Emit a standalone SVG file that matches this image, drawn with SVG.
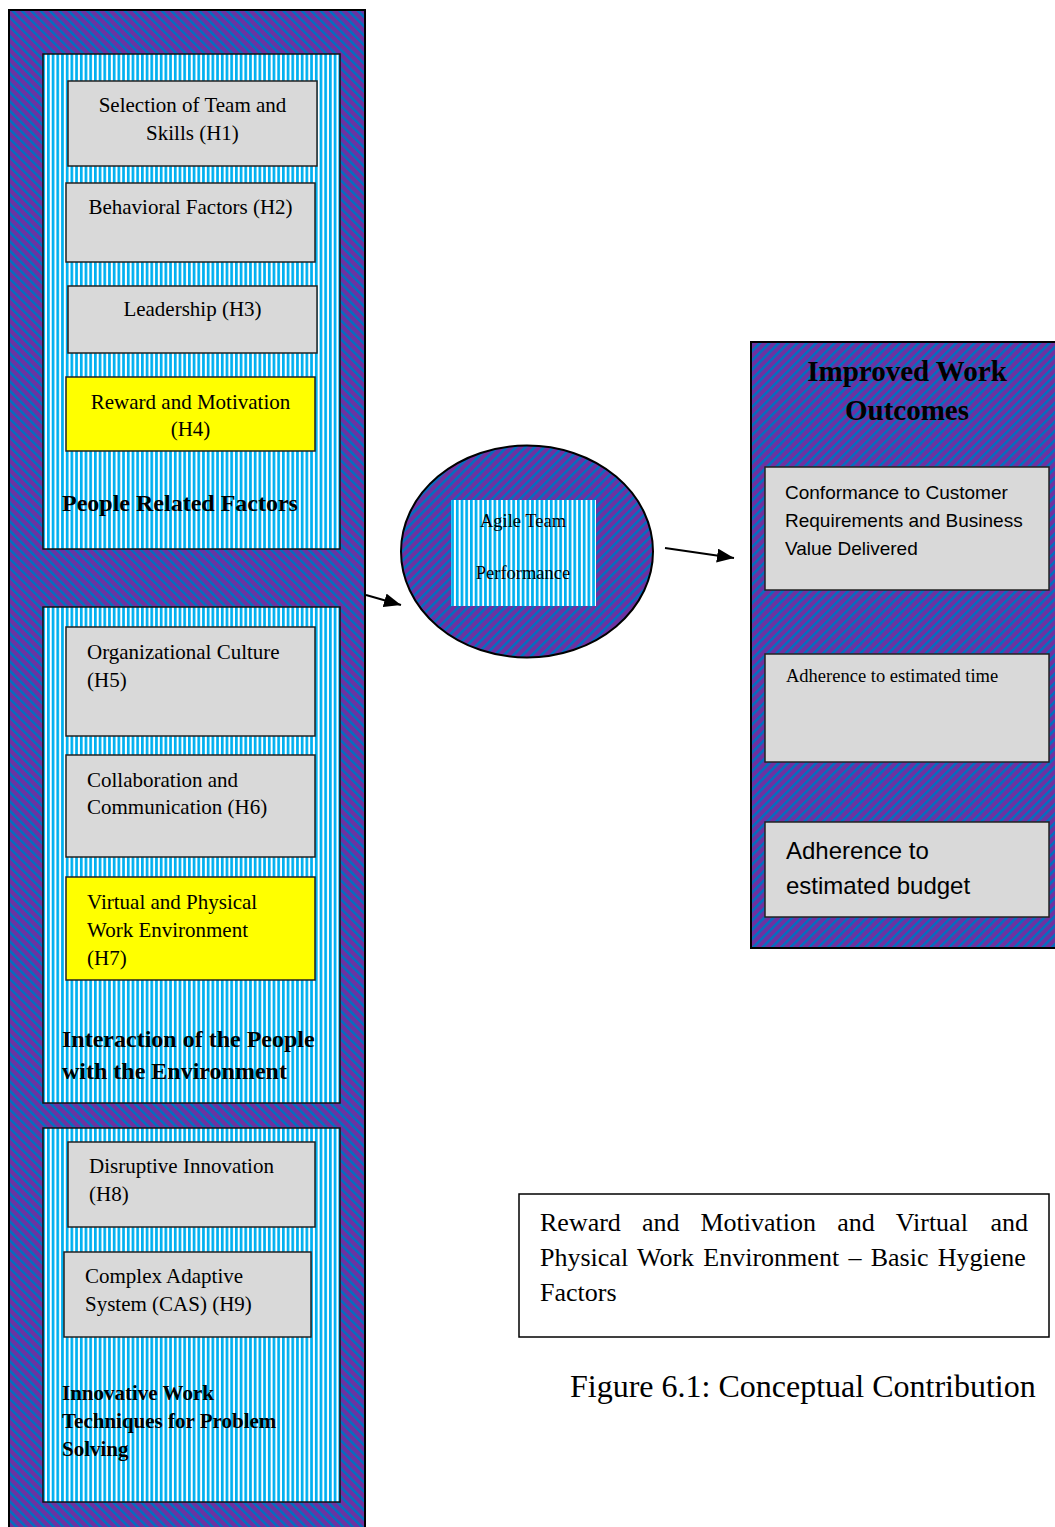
<svg xmlns="http://www.w3.org/2000/svg" width="1055" height="1527" viewBox="0 0 1055 1527">
  <defs>
    <!-- purple background with blue diagonal bands, two orientations -->
    <pattern id="diagDown" width="6.6" height="6.6" patternUnits="userSpaceOnUse" patternTransform="rotate(-45)">
      <rect width="6.6" height="6.6" fill="#7030A0"/>
      <rect width="2.5" height="6.6" fill="#0070C0"/>
    </pattern>
    <pattern id="diagUp" width="6.6" height="6.6" patternUnits="userSpaceOnUse" patternTransform="rotate(45)">
      <rect width="6.6" height="6.6" fill="#7030A0"/>
      <rect width="2.5" height="6.6" fill="#0070C0"/>
    </pattern>
    <!-- cyan / white vertical stripes -->
    <pattern id="vstripe" width="4.7" height="10" patternUnits="userSpaceOnUse">
      <rect width="4.7" height="10" fill="#FFFFFF"/>
      <rect width="2.7" height="10" fill="#00B0F0"/>
    </pattern>
    <marker id="arrow" markerUnits="userSpaceOnUse" markerWidth="18" markerHeight="14" refX="17" refY="7" orient="auto">
      <path d="M0,0 L17,7 L0,14 Z" fill="#000"/>
    </marker>
    <style>
      .panel { fill: url(#diagDown); stroke: #000; stroke-width: 2; }
      .panelUp { fill: url(#diagUp); stroke: #000; stroke-width: 2; }
      .section { fill: url(#vstripe); stroke: #111; stroke-width: 1.5; }
      .box { fill: #D9D9D9; stroke: #222; stroke-width: 1.5; }
      .hl { fill: #FFFF00; stroke: #222; stroke-width: 1.5; }
      .serif { font-family: "Liberation Serif", "Times New Roman", serif; fill: #000; }
      .sans { font-family: "Liberation Sans", Arial, sans-serif; fill: #000; }
      .t { font-size: 21px; }
      .c { text-anchor: middle; }
      .head { font-weight: bold; font-size: 24px; }
      .head-sm { font-weight: bold; font-size: 21px; }
      .title { font-weight: bold; font-size: 29px; }
      .small { font-size: 18.5px; }
      .note { font-size: 26px; }
      .cap { font-size: 32px; }
      .conn { stroke: #000; stroke-width: 2; fill: none; marker-end: url(#arrow); }
    </style>
  </defs>

  <!-- left column of driver factors -->
  <g id="driversPanel">
    <rect class="panel" x="9" y="10" width="356" height="1522"/>
  </g>

  <g id="peopleRelated">
    <rect class="section" x="43" y="54" width="297" height="495"/>
    <text class="serif head" x="62" y="511">People Related Factors</text>
  </g>
  <g id="h1">
    <rect class="box" x="68" y="81" width="249" height="85"/>
    <text class="serif t c" x="192.5" y="112">Selection of Team and</text>
    <text class="serif t c" x="192.5" y="140">Skills (H1)</text>
  </g>
  <g id="h2">
    <rect class="box" x="66" y="183" width="249" height="79"/>
    <text class="serif t c" x="190.5" y="214">Behavioral Factors (H2)</text>
  </g>
  <g id="h3">
    <rect class="box" x="68" y="286" width="249" height="67"/>
    <text class="serif t c" x="192.5" y="316">Leadership (H3)</text>
  </g>
  <g id="h4">
    <rect class="hl" x="66" y="377" width="249" height="74"/>
    <text class="serif t c" x="190.5" y="409">Reward and Motivation</text>
    <text class="serif t c" x="190.5" y="436">(H4)</text>
  </g>

  <g id="interaction">
    <rect class="section" x="43" y="607" width="297" height="496"/>
    <text class="serif head" x="62" y="1047">Interaction of the People</text>
    <text class="serif head" x="62" y="1079">with the Environment</text>
  </g>
  <g id="h5">
    <rect class="box" x="66" y="627" width="249" height="109"/>
    <text class="serif t" x="87" y="659">Organizational Culture</text>
    <text class="serif t" x="87" y="687">(H5)</text>
  </g>
  <g id="h6">
    <rect class="box" x="66" y="755" width="249" height="102"/>
    <text class="serif t" x="87" y="787">Collaboration and</text>
    <text class="serif t" x="87" y="814">Communication (H6)</text>
  </g>
  <g id="h7">
    <rect class="hl" x="66" y="877" width="249" height="103"/>
    <text class="serif t" x="87" y="909">Virtual and Physical</text>
    <text class="serif t" x="87" y="937">Work Environment</text>
    <text class="serif t" x="87" y="965">(H7)</text>
  </g>

  <g id="innovative">
    <rect class="section" x="43" y="1128" width="297" height="374"/>
    <text class="serif head-sm" x="62" y="1400">Innovative Work</text>
    <text class="serif head-sm" x="62" y="1428">Techniques for Problem</text>
    <text class="serif head-sm" x="62" y="1456">Solving</text>
  </g>
  <g id="h8">
    <rect class="box" x="68" y="1142" width="247" height="85"/>
    <text class="serif t" x="89" y="1173">Disruptive Innovation</text>
    <text class="serif t" x="89" y="1201">(H8)</text>
  </g>
  <g id="h9">
    <rect class="box" x="64" y="1252" width="247" height="85"/>
    <text class="serif t" x="85" y="1283">Complex Adaptive</text>
    <text class="serif t" x="85" y="1311">System (CAS) (H9)</text>
  </g>

  <!-- central construct -->
  <g id="agilePerformance">
    <ellipse class="panelUp" cx="527" cy="551.5" rx="126" ry="106"/>
    <rect x="451" y="500" width="145" height="106" fill="url(#vstripe)"/>
    <text class="serif small c" x="523" y="527">Agile Team</text>
    <text class="serif small c" x="523" y="579">Performance</text>
  </g>

  <!-- outcomes column -->
  <g id="outcomes">
    <rect class="panelUp" x="751" y="342" width="310" height="606"/>
    <text class="serif title c" x="907" y="381">Improved Work</text>
    <text class="serif title c" x="907" y="420">Outcomes</text>
  </g>
  <g id="conformance">
    <rect class="box" x="765" y="467" width="284" height="123" stroke-width="2"/>
    <text class="sans" x="785" y="499" font-size="19">Conformance to Customer</text>
    <text class="sans" x="785" y="527" font-size="19">Requirements and Business</text>
    <text class="sans" x="785" y="555" font-size="19">Value Delivered</text>
  </g>
  <g id="time">
    <rect class="box" x="765" y="654" width="284" height="108" stroke-width="2"/>
    <text class="serif small" x="786" y="682">Adherence to estimated time</text>
  </g>
  <g id="budget">
    <rect class="box" x="765" y="822" width="284" height="95" stroke-width="2"/>
    <text class="sans" x="786" y="859" font-size="24">Adherence to</text>
    <text class="sans" x="786" y="894" font-size="24">estimated budget</text>
  </g>

  <!-- note on hygiene factors -->
  <g id="hygieneNote">
    <rect x="519" y="1194" width="530" height="143" fill="#FFFFFF" stroke="#000" stroke-width="1.5"/>
    <g class="serif note">
      <text x="540" y="1231">Reward</text>
      <text x="642" y="1231">and</text>
      <text x="700.5" y="1231">Motivation</text>
      <text x="837.2" y="1231">and</text>
      <text x="895.8" y="1231">Virtual</text>
      <text x="990.5" y="1231">and</text>
      <text x="540" y="1266" word-spacing="2.8">Physical Work Environment – Basic Hygiene</text>
      <text x="540" y="1301">Factors</text>
    </g>
  </g>

  <g id="caption">
    <text class="serif cap" x="570" y="1397">Figure 6.1: Conceptual Contribution</text>
  </g>

  <!-- connectors -->
  <g id="connectors">
    <line class="conn" x1="366" y1="595" x2="401" y2="605"/>
    <line class="conn" x1="665" y1="548" x2="734" y2="558"/>
  </g>
</svg>
